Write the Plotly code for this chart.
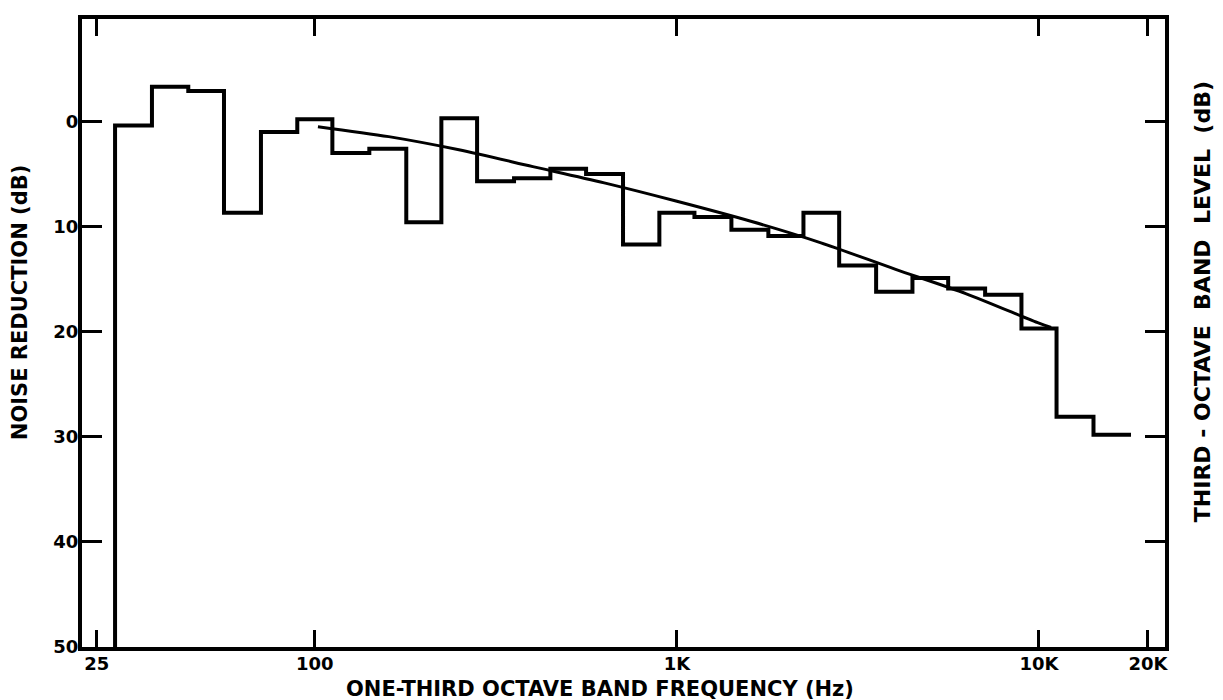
import numpy as np
import plotly.graph_objects as go

# One-third octave band centre frequencies (Hz) and measured noise reduction (dB)
band_centers = [31.5, 40, 50, 63, 80, 100, 125, 160, 200, 250, 315, 400, 500, 630,
                800, 1000, 1250, 1600, 2000, 2500, 3150, 4000, 5000, 6300, 8000,
                10000, 12500, 16000]
noise_reduction = [0.4, -3.3, -2.9, 8.7, 1.0, -0.2, 3.0, 2.6, 9.6, -0.3, 5.7, 5.4,
                   4.5, 5.0, 11.7, 8.7, 9.1, 10.3, 10.9, 8.7, 13.7, 16.2, 14.9, 15.9,
                   16.5, 19.7, 28.1, 29.8]

# Smooth fitted curve (frequency in Hz, dB)
fit_freq = [102, 160, 250, 400, 630, 1000, 1600, 2500, 4000, 6300, 10000, 10800]
fit_level = [0.5, 1.45, 2.7, 4.3, 5.85, 7.6, 9.5, 11.55, 14.05, 16.4, 19.2, 19.6]

x_tickvals = [25, 100, 1000, 10000, 20000]
x_ticktext = ["25", "100", "1K", "10K", "20K"]
y_tickvals = [0, 10, 20, 30, 40, 50]
y_ticktext = ["0", "10", "20", "30", "40", "50"]

# band edges for the step outline
c = np.array(band_centers, dtype=float)
edges = [c[0] / 10 ** 0.05]
for i in range(1, len(c)):
    edges.append(float(np.sqrt(c[i - 1] * c[i])))
edges.append(c[-1] * 10 ** 0.05)

step_x = [edges[0]] + edges[:len(c)] + [edges[len(c)]]
step_y = [50] + noise_reduction + [noise_reduction[-1]]

FONT = "DejaVu Sans"

# page body has an 8px margin; figure sized to fit the window
W, H = 1215, 692
OFF = 8
PL, PR, PT, PB = 82, 1165, 15, 647  # plot area in window pixels
pw, ph = PR - PL, PB - PT


def px(xw):
    return (xw - PL) / pw


def py(yw):
    return (PB - yw) / ph


fig = go.Figure()
fig.add_trace(go.Scatter(x=step_x, y=step_y, mode="lines",
                         line=dict(color="black", width=4, shape="hv"),
                         hoverinfo="skip", showlegend=False))
fig.add_trace(go.Scatter(x=fit_freq, y=fit_level, mode="lines",
                         line=dict(color="black", width=3, shape="spline", smoothing=0.8),
                         hoverinfo="skip", showlegend=False))

fig.update_layout(
    width=W, height=H,
    margin=dict(l=PL - OFF, r=W - (PR - OFF), t=PT - OFF, b=H - (PB - OFF), pad=0),
    paper_bgcolor="white", plot_bgcolor="white",
    font=dict(family=FONT, color="black", size=18, weight="bold"),
    showlegend=False,
    xaxis=dict(type="log", range=[1.357, 4.348],
               tickvals=x_tickvals, ticktext=x_ticktext,
               ticks="inside", ticklen=17, tickwidth=3, tickcolor="black",
               showline=True, linewidth=4, linecolor="black", mirror="ticks",
               showgrid=False, zeroline=False, ticklabelstandoff=-3,
               tickfont=dict(family=FONT, size=18, weight="bold")),
    yaxis=dict(range=[50, -9.74], tickvals=y_tickvals, ticktext=y_ticktext,
               ticks="inside", ticklen=20, tickwidth=3, tickcolor="black",
               showline=True, linewidth=4, linecolor="black", mirror="ticks",
               showgrid=False, zeroline=False, ticklabelstandoff=-4,
               tickfont=dict(family=FONT, size=18, weight="bold")),
    annotations=[
        dict(text="ONE-THIRD OCTAVE BAND FREQUENCY (Hz)", xref="paper", yref="paper",
             x=px(600), y=py(689), showarrow=False,
             xanchor="center", yanchor="middle",
             font=dict(family=FONT, size=21, weight="bold")),
        dict(text="NOISE REDUCTION (dB)", xref="paper", yref="paper",
             x=px(20), y=py(300), showarrow=False, textangle=-90,
             xanchor="center", yanchor="middle",
             font=dict(family=FONT, size=21, weight="bold")),
        dict(text="THIRD - OCTAVE  BAND  LEVEL  (dB)", xref="paper", yref="paper",
             x=px(1202), y=py(300), showarrow=False, textangle=-90,
             xanchor="center", yanchor="middle",
             font=dict(family=FONT, size=22, weight="bold")),
    ],
)

fig.write_html("out.html")
